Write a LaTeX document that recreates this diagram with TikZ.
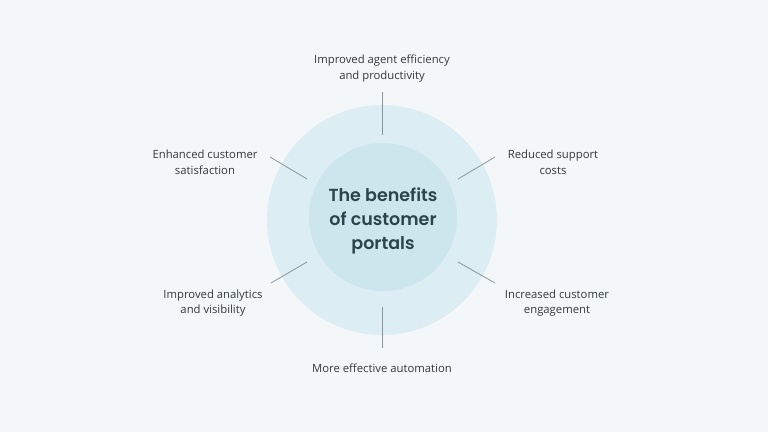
\documentclass[tikz,border=0pt]{standalone}
\usepackage{fontspec}
\setmainfont{Open Sans}
\newfontfamily\titlefont{Poppins}[UprightFont=* SemiBold, BoldFont=* Bold]
\definecolor{bgc}{HTML}{F4F7F9}
\definecolor{outerc}{HTML}{DCEDF3}
\definecolor{innerc}{HTML}{CDE6EE}
\definecolor{titlec}{HTML}{2A4549}
\definecolor{labc}{HTML}{33383B}
\definecolor{linec}{HTML}{8A969B}
\begin{document}
\begin{tikzpicture}[x=1pt,y=-1pt,
  lab/.style={align=center,text=labc,font=\fontsize{11.3}{15.5}\selectfont,inner sep=0pt},
  conn/.style={draw=linec,line width=0.8pt}]
\fill[bgc] (0,0) rectangle (768,432);
\useasboundingbox (0,0) rectangle (768,432);
\fill[outerc] (382,220) circle (115);
\fill[innerc] (383,217) circle (74);
\node[align=center,text=titlec,font=\titlefont\fontsize{17.5}{24}\selectfont] (title) at (383,221) {The benefits\\of customer\\portals};
\node[lab] (t) at (382,68.5) {Improved agent efficiency\\and productivity};
\node[lab] (ul) at (205,162.5) {Enhanced customer\\satisfaction};
\node[lab] (ur) at (553,162.5) {Reduced support\\costs};
\node[lab] (ll) at (213,303) {Improved analytics\\and visibility};
\node[lab] (lr) at (557,303) {Increased customer\\engagement};
\node[lab] (b) at (382,368.5) {More effective automation};
\coordinate (t1) at (382,92); \coordinate (t2) at (382,135);
\coordinate (b1) at (382,307); \coordinate (b2) at (382,348);
\coordinate (ul1) at (270,157); \coordinate (ul2) at (307,179);
\coordinate (ur1) at (495,157); \coordinate (ur2) at (458,179);
\coordinate (ll1) at (271,283); \coordinate (ll2) at (307,262);
\coordinate (lr1) at (495,283); \coordinate (lr2) at (458,262);
\draw[conn] (t1) -- (t2);
\draw[conn] (b1) -- (b2);
\draw[conn] (ul1) -- (ul2);
\draw[conn] (ur1) -- (ur2);
\draw[conn] (ll1) -- (ll2);
\draw[conn] (lr1) -- (lr2);
\end{tikzpicture}
\end{document}
